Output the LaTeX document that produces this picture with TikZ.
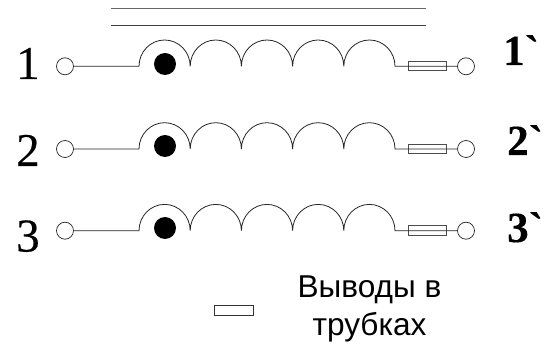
\documentclass[tikz,border=0pt]{standalone}
\usepackage{fontspec}
\newfontfamily\tims[FakeBold=0.3]{Liberation Serif}
\newfontfamily\timd[FakeBold=0.4]{Liberation Serif}
\newfontfamily\lsans{Liberation Sans}
\tikzset{
  x=1pt,y=-1pt,
  wire/.style={draw=black!85,line width=0.8pt},
  terminal/.style={circle,draw=black!85,line width=0.7pt,fill=white,minimum size=17pt,inner sep=0pt},
  dotmark/.style={circle,fill=black,minimum size=22pt,inner sep=0pt},
  tube/.style={rectangle,draw=black!70,line width=0.8pt,minimum width=38.5pt,minimum height=9.5pt,inner sep=0pt},
  digit/.style={anchor=base west,inner sep=0pt,font=\timd\fontsize{47}{47}\selectfont},
  primed/.style={anchor=base west,inner sep=0pt,font=\tims\fontsize{43}{43}\selectfont\bfseries},
  core/.style={draw=black!60,line width=1pt},
  note/.style={align=center,inner sep=0pt,font=\lsans\fontsize{31.6}{38}\selectfont}
}
\begin{document}
\begin{tikzpicture}
\useasboundingbox[fill=white] (0,0) rectangle (546,344);
\coordinate (c1a) at (111,9); \coordinate (c1b) at (426,9);
\coordinate (c2a) at (111,25.5); \coordinate (c2b) at (426,25.5);
\draw[core] (c1a) -- (c1b);
\draw[core,line width=0.8pt,draw=black!75] (c2a) -- (c2b);
\foreach \r/\y/\dy/\ly/\lp/\px/\py/\lab in {1/66.3/64/79/65/503/65/1,2/149/146/166/155/507/155/2,3/230.7/228/251.5/242/507/242/3}{
  \node[terminal] (L\r) at (65,\y) {};
  \node[terminal] (R\r) at (466,\y) {};
  \coordinate (A\r) at (139,\y);
  \coordinate (B\r) at (395,\y);
  \node[tube] (T\r) at (427.5,\y-0.3) {};
  \draw[wire] (L\r.east) -- (A\r)
    arc[start angle=180,end angle=0,x radius=25.6pt,y radius=26.3pt]
    arc[start angle=180,end angle=0,x radius=25.6pt,y radius=26.3pt]
    arc[start angle=180,end angle=0,x radius=25.6pt,y radius=26.3pt]
    arc[start angle=180,end angle=0,x radius=25.6pt,y radius=26.3pt]
    arc[start angle=180,end angle=0,x radius=25.6pt,y radius=26.3pt] -- (R\r.west);
  \node[dotmark] (D\r) at (165,\dy) {};
  \node[digit] (N\r) at (16,\ly) {\lab};
  \node[primed] (P\r) at (\px,\lp) {\lab`};
}
\node[tube,draw=black!80] (key) at (234,310.5) {};
\node[note] (txt) at (369.5,308.5) {Выводы в\\трубках};
\end{tikzpicture}
\end{document}
